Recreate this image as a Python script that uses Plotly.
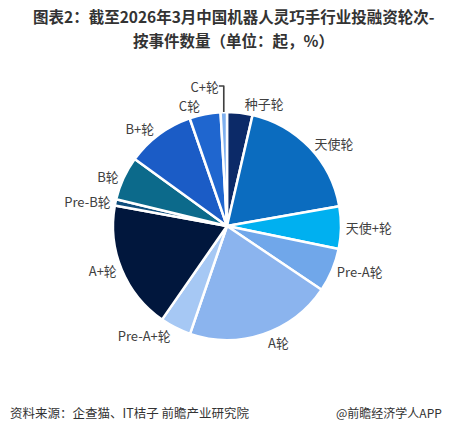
import plotly.graph_objects as go

rounds = ["种子轮", "天使轮", "天使+轮", "Pre-A轮", "A轮", "Pre-A+轮", "A+轮",
          "Pre-B轮", "B轮", "B+轮", "C轮", "C+轮"]
shares = [3.6, 18.6, 6.0, 6.2, 20.8, 4.4, 18.2, 0.9, 6.2, 9.7, 4.4, 0.9]
colors = ["#0c2a68", "#0b6cbf", "#00b0f0", "#70a7ea", "#8bb4ee", "#a6c8f4",
          "#01173d", "#0f4e7c", "#0c6a8b", "#1b5cc6", "#1f66cf", "#7fb0ef"]

title_lines = ["图表2：截至2026年3月中国机器人灵巧手行业投融资轮次-",
               "按事件数量（单位：起，%）"]
source_text = "资料来源：企查猫、IT桔子 前瞻产业研究院"
brand_text = "@前瞻经济学人APP"

font_cjk = "Noto Sans CJK SC, Noto Sans, sans-serif"
W, H = 467, 434

fig = go.Figure(go.Pie(
    labels=rounds,
    values=shares,
    sort=False,
    direction="clockwise",
    rotation=0,
    marker=dict(colors=colors, line=dict(color="white", width=2.5)),
    textinfo="label",
    textposition="outside",
    textfont=dict(family=font_cjk, size=13, color="#404040"),
    hoverinfo="label+value",
    showlegend=False,
    domain=dict(x=[113 / W, 341 / W], y=[1 - 340 / H, 1 - 112 / H]),
))

fig.update_layout(
    width=W, height=H,
    margin=dict(l=0, r=0, t=0, b=0),
    paper_bgcolor="white",
    plot_bgcolor="white",
    annotations=[
        dict(text="<b>" + title_lines[0] + "</b>",
             x=0.5, y=1 - 16 / H, xref="paper", yref="paper",
             xanchor="center", yanchor="middle", showarrow=False,
             borderpad=0,
             font=dict(family=font_cjk, size=15.5, color="#333333")),
        dict(text="<b>" + title_lines[1] + "</b>",
             x=0.5, y=1 - 40 / H, xref="paper", yref="paper",
             xanchor="center", yanchor="middle", showarrow=False,
             borderpad=0,
             font=dict(family=font_cjk, size=15.5, color="#333333")),
        dict(text=source_text,
             x=8 / W, y=1 - 412 / H, xref="paper", yref="paper",
             xanchor="left", yanchor="middle", showarrow=False,
             font=dict(family=font_cjk, size=12.5, color="#333333")),
        dict(text=brand_text,
             x=444 / W, y=1 - 412 / H, xref="paper", yref="paper",
             xanchor="right", yanchor="middle", showarrow=False,
             font=dict(family=font_cjk, size=12, color="#333333")),
    ],
)

fig.write_html("out.html", config={"displayModeBar": False},
               post_script="document.body.style.margin='0';")
